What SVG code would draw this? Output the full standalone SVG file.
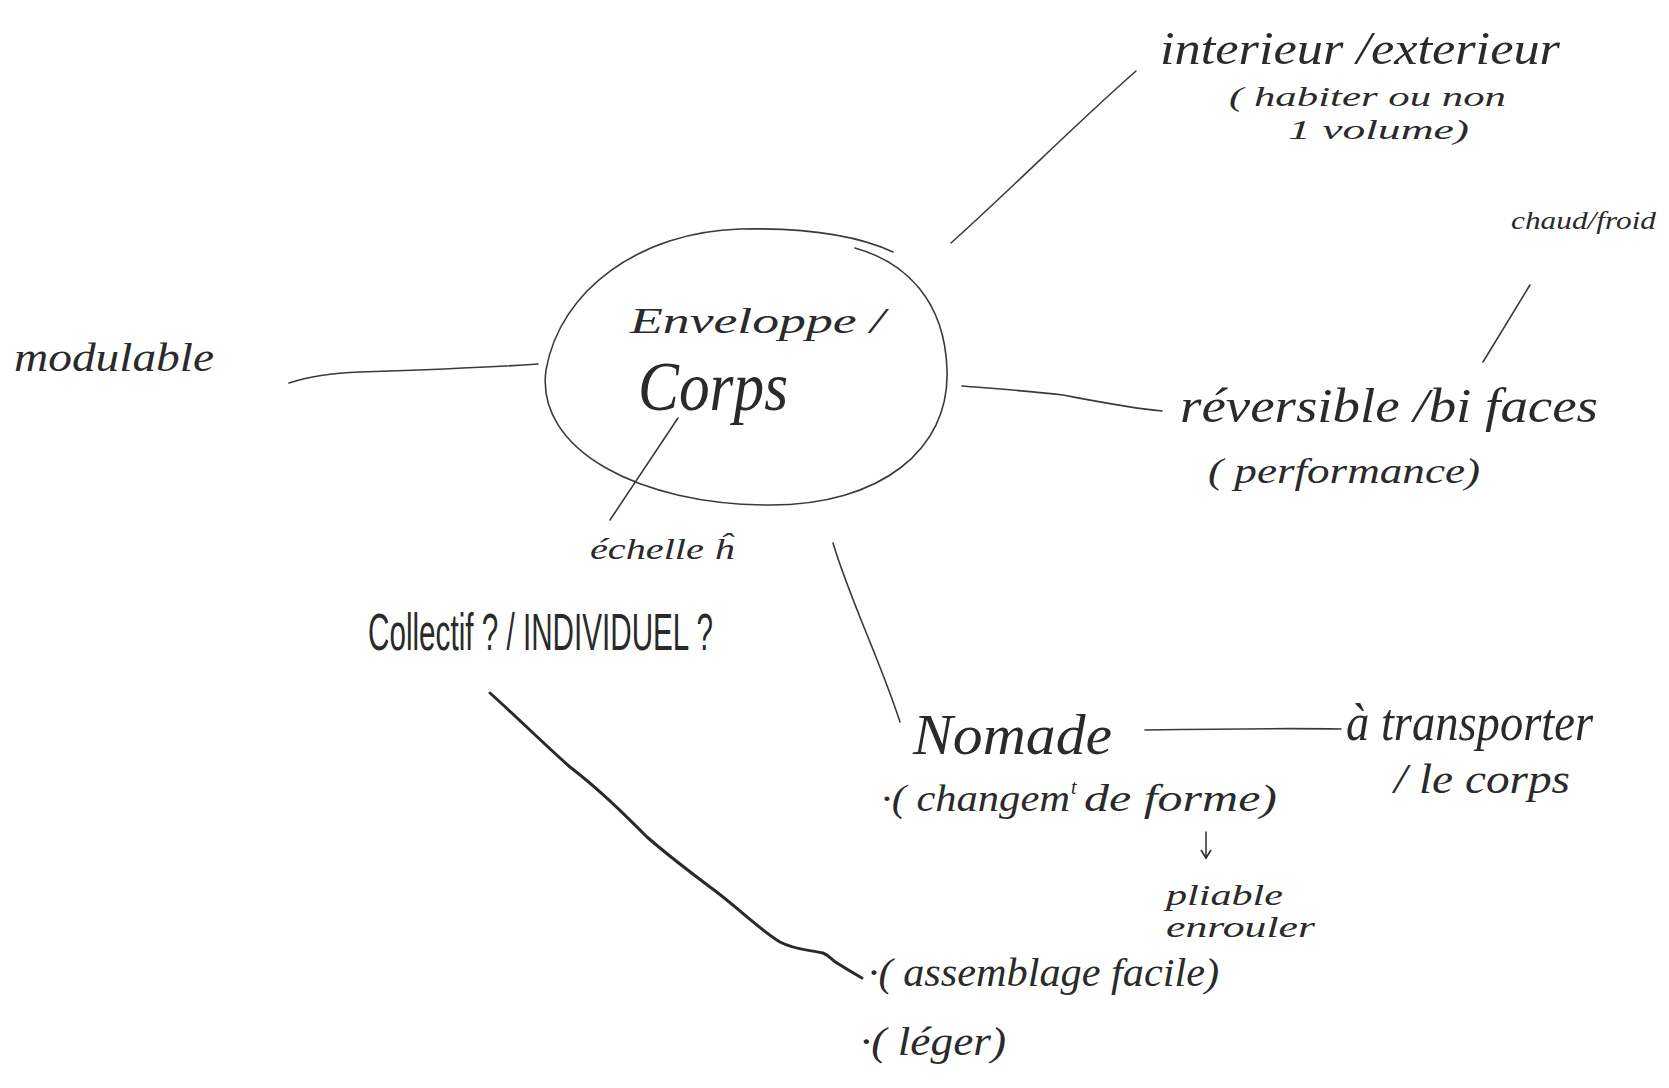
<svg xmlns="http://www.w3.org/2000/svg" width="1669" height="1088" viewBox="0 0 1669 1088">
<defs>
<style>
.t{font-family:"Liberation Serif",serif;font-style:italic;fill:#2a2a2a}
.p{font-family:"Liberation Sans",sans-serif;fill:#2a2a2a}
.c{fill:none;stroke:#3a3a3a;stroke-width:1.6;stroke-linecap:round;stroke-linejoin:round}
.thick{stroke:#2a2a2a;stroke-width:3}
</style>
<marker id="arr" viewBox="0 0 12 12" refX="11" refY="6" markerWidth="12" markerHeight="12" markerUnits="userSpaceOnUse" orient="auto">
<path d="M3,1 L11,6 L3,11" fill="none" stroke="#2a2a2a" stroke-width="1.6"/>
</marker>
</defs>
<rect width="1669" height="1088" fill="#ffffff"/>

<g id="connectors">
<path class="c" d="M951,243 C1010,190 1080,120 1136,71"/>
<path class="c" d="M1530,285 L1483,362"/>
<path class="c" d="M289,383 C310,376 330,373 360,372 C420,370 480,368 538,364"/>
<path class="c" d="M962,386 C1000,389 1030,391 1063,395 C1100,402 1130,408 1162,411"/>
<path class="c" d="M678,418 L610,520"/>
<path class="c" d="M833,543 C850,600 880,660 900,722"/>
<path class="c" d="M1145,730 C1210,729 1280,728 1341,729"/>
<path class="c" d="M1206,832 L1206,858" marker-end="url(#arr)"/>
<path class="c thick" d="M490,693 C520,720 545,745 570,767 C600,790 625,815 647,837 C670,857 690,872 710,887 C735,905 760,930 780,942 C795,950 810,950 823,953 C830,956 832,960 837,963 C848,970 855,974 862,978"/>
</g>

<g id="node-centre">
<path class="c" d="M893,252 C850,232 790,228 740,229 C640,232 560,290 546,370 C535,450 640,505 770,505 C880,505 950,450 947,370 C945,300 905,262 855,248"/>
<text class="t" x="630" y="333" font-size="36" textLength="255" lengthAdjust="spacingAndGlyphs">Enveloppe /</text>
<text class="t" x="638" y="410" font-size="70" textLength="150" lengthAdjust="spacingAndGlyphs">Corps</text>
</g>

<g id="node-interieur">
<text class="t" x="1160" y="64" font-size="46" textLength="400" lengthAdjust="spacingAndGlyphs">interieur /exterieur</text>
<text class="t" x="1229" y="106" font-size="28" textLength="277" lengthAdjust="spacingAndGlyphs">( habiter ou non</text>
<text class="t" x="1288" y="139" font-size="28" textLength="181" lengthAdjust="spacingAndGlyphs">1 volume)</text>
</g>

<g id="node-chaud">
<text class="t" x="1511" y="229" font-size="26" textLength="145" lengthAdjust="spacingAndGlyphs">chaud/froid</text>
</g>

<g id="node-modulable">
<text class="t" x="14" y="371" font-size="40" textLength="200" lengthAdjust="spacingAndGlyphs">modulable</text>
</g>

<g id="node-reversible">
<text class="t" x="1180" y="422" font-size="48" textLength="418" lengthAdjust="spacingAndGlyphs">réversible /bi faces</text>
<text class="t" x="1208" y="483" font-size="36" textLength="272" lengthAdjust="spacingAndGlyphs">( performance)</text>
</g>

<g id="node-echelle">
<text class="t" x="590" y="559" font-size="30" textLength="144" lengthAdjust="spacingAndGlyphs">échelle ĥ</text>
</g>

<g id="node-collectif">
<text class="p" x="368" y="650" font-size="52" textLength="345" lengthAdjust="spacingAndGlyphs">Collectif ? / INDIVIDUEL ?</text>
</g>

<g id="node-nomade">
<text class="t" x="913" y="754" font-size="58" textLength="199" lengthAdjust="spacingAndGlyphs">Nomade</text>
<text class="t" x="881" y="811" font-size="38" textLength="189" lengthAdjust="spacingAndGlyphs">·( changem</text>
<text class="t" x="1071" y="794" font-size="20">t</text>
<text class="t" x="1084" y="811" font-size="38" textLength="193" lengthAdjust="spacingAndGlyphs">de forme)</text>
</g>

<g id="node-transporter">
<text class="t" x="1346" y="740" font-size="52" textLength="247" lengthAdjust="spacingAndGlyphs">à transporter</text>
<text class="t" x="1394" y="793" font-size="42" textLength="176" lengthAdjust="spacingAndGlyphs">/ le corps</text>
</g>

<g id="node-pliable">
<text class="t" x="1166" y="905" font-size="30" textLength="117" lengthAdjust="spacingAndGlyphs">pliable</text>
<text class="t" x="1166" y="937" font-size="30" textLength="149" lengthAdjust="spacingAndGlyphs">enrouler</text>
</g>

<g id="node-assemblage">
<text class="t" x="868" y="986" font-size="40" textLength="351" lengthAdjust="spacingAndGlyphs">·( assemblage facile)</text>
</g>

<g id="node-leger">
<text class="t" x="860" y="1055" font-size="40" textLength="146" lengthAdjust="spacingAndGlyphs">·( léger)</text>
</g>
</svg>
